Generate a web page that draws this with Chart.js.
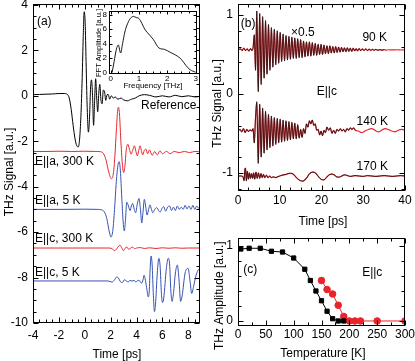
<!DOCTYPE html>
<html>
<head>
<meta charset="utf-8">
<script src="https://cdn.jsdelivr.net/npm/chart.js"></script>
<style>
  body { margin: 0; background: #fff; }
  #wrap { position: relative; width: 415px; height: 361px; background: #fff; }
  canvas { position: absolute; }
</style>
</head>
<body>
<div id="wrap">
  <canvas id="panelA" width="205" height="361" style="left:0;top:0;width:205px;height:361px"></canvas>
  <canvas id="inset" width="115" height="95" style="left:90px;top:0;width:115px;height:95px"></canvas>
  <canvas id="panelB" width="210" height="232" style="left:205px;top:0;width:210px;height:232px"></canvas>
  <canvas id="panelC" width="210" height="129" style="left:205px;top:232px;width:210px;height:129px"></canvas>
</div>
<script>
// ===== panel (a): THz waveforms, [time ps, signal a.u.]
const refTrace = [[-4,0.05],[-3.5,0.06],[-3,0.07],[-2.5,0.08],[-2,0.1],[-1.6,0.1],[-1.35,0.06],[-1.2,-0.1],[-1.05,-0.6],[-0.9,-1.3],[-0.75,-1.9],[-0.62,-2.2],[-0.5,-2.25],[-0.4,-1.9],[-0.3,-0.9],[-0.2,0.8],[-0.12,2.6],[-0.05,3.7],[0.03,3.2],[0.1,1.5],[0.18,-0.4],[0.28,-1.6],[0.37,-0.9],[0.45,0.4],[0.52,0.7],[0.6,0],[0.68,-1.3],[0.76,-0.2],[0.84,0.75],[0.92,-0.1],[1.0,-0.7],[1.08,0.1],[1.16,0.5],[1.25,-0.2],[1.34,-0.35],[1.43,0.25],[1.52,0.2],[1.62,-0.2],[1.72,0.05],[1.82,0.05],[1.92,-0.15],[2.05,0.0],[2.2,-0.1],[2.35,-0.05],[2.55,-0.15],[2.8,-0.1],[3.0,-0.18],[3.3,-0.22],[3.6,-0.15],[3.9,-0.1],[4.2,0.0],[4.6,0.05],[5.0,0.02],[5.5,-0.05],[6.0,0.0],[6.5,-0.05],[7.0,0.02],[7.5,-0.04],[8.0,0.0],[8.5,-0.05],[9.0,-0.02]];
const ea300Trace = [[-4,-2.45],[-3,-2.45],[-2,-2.44],[-1,-2.45],[0,-2.44],[0.8,-2.45],[1.2,-2.46],[1.45,-2.55],[1.65,-2.85],[1.85,-3.35],[2.05,-3.65],[2.2,-3.45],[2.32,-2.7],[2.44,-1.5],[2.53,-0.7],[2.6,-0.5],[2.68,-0.8],[2.78,-1.9],[2.9,-3.0],[3.0,-3.38],[3.1,-3.1],[3.2,-2.4],[3.32,-2.13],[3.45,-2.35],[3.58,-2.57],[3.7,-2.4],[3.83,-2.2],[3.95,-2.45],[4.06,-2.64],[4.17,-2.4],[4.27,-2.2],[4.37,-2.4],[4.47,-2.6],[4.6,-2.4],[4.72,-2.35],[4.85,-2.55],[5.0,-2.38],[5.2,-2.62],[5.4,-2.45],[5.6,-2.6],[5.8,-2.42],[6.0,-2.55],[6.3,-2.45],[6.6,-2.55],[6.9,-2.45],[7.3,-2.5],[7.7,-2.45],[8.1,-2.5],[8.5,-2.45],[9,-2.47]];
const ea5Trace = [[-4,-5.0],[-2,-5.0],[0,-4.99],[1.0,-5.0],[1.3,-5.02],[1.5,-5.1],[1.7,-5.4],[1.88,-5.95],[2.03,-6.22],[2.17,-5.9],[2.3,-5.0],[2.42,-3.9],[2.55,-3.1],[2.66,-2.9],[2.75,-3.3],[2.86,-4.5],[2.97,-5.6],[3.05,-5.95],[3.14,-5.5],[3.24,-4.68],[3.37,-4.85],[3.5,-5.05],[3.6,-4.85],[3.7,-4.74],[3.82,-5.0],[3.93,-5.15],[4.06,-4.75],[4.19,-4.52],[4.3,-5.0],[4.4,-5.6],[4.5,-5.1],[4.6,-4.56],[4.7,-4.85],[4.81,-5.25],[4.93,-5.0],[5.04,-4.8],[5.15,-5.0],[5.25,-5.15],[5.4,-5.0],[5.56,-4.92],[5.7,-5.05],[5.82,-5.12],[5.97,-4.95],[6.1,-4.88],[6.25,-5.08],[6.4,-4.9],[6.55,-4.85],[6.7,-5.05],[6.85,-4.9],[7.0,-5.05],[7.15,-4.85],[7.3,-5.0],[7.45,-4.9],[7.6,-5.0],[7.75,-4.82],[7.9,-4.98],[8.05,-4.85],[8.2,-5.0],[8.35,-4.82],[8.5,-5.0],[8.65,-4.85],[8.8,-4.95],[9,-4.88]];
const ec300Trace = [[-4,-6.7],[-2,-6.7],[0,-6.7],[1.8,-6.7],[2.1,-6.72],[2.3,-6.82],[2.45,-6.75],[2.6,-6.62],[2.72,-6.58],[2.85,-6.68],[2.98,-6.82],[3.1,-6.72],[3.25,-6.66],[3.4,-6.76],[3.55,-6.7],[3.7,-6.66],[3.85,-6.73],[4.0,-6.7],[4.3,-6.68],[4.6,-6.72],[5,-6.69],[5.5,-6.72],[6,-6.69],[6.5,-6.71],[7,-6.69],[7.5,-6.71],[8,-6.7],[9,-6.7]];
const ec5Trace = [[-4,-8.15],[-2,-8.15],[0,-8.15],[1.8,-8.15],[2.1,-8.2],[2.3,-8.1],[2.45,-7.98],[2.6,-8.02],[2.75,-8.18],[2.9,-8.22],[3.05,-8.1],[3.2,-8.14],[3.35,-8.2],[3.5,-8.12],[3.65,-8.16],[3.8,-8.12],[3.95,-8.2],[4.1,-8.12],[4.25,-8.15],[4.38,-8.25],[4.5,-8.1],[4.58,-7.9],[4.66,-8.05],[4.78,-8.45],[4.9,-8.85],[4.98,-8.6],[5.05,-7.6],[5.12,-7.05],[5.2,-7.4],[5.3,-8.8],[5.38,-9.5],[5.46,-9.2],[5.6,-7.8],[5.72,-7.15],[5.82,-7.5],[5.92,-8.7],[6.0,-9.1],[6.1,-8.9],[6.3,-7.6],[6.45,-7.15],[6.55,-7.4],[6.65,-8.6],[6.74,-9.05],[6.85,-8.7],[7.0,-7.8],[7.15,-7.45],[7.28,-8.1],[7.4,-9.05],[7.52,-8.8],[7.75,-7.8],[7.98,-7.6],[8.12,-8.1],[8.26,-8.7],[8.4,-8.4],[8.6,-7.9],[8.8,-7.65],[9.0,-7.7]];
const aTimeTicks = [-4, -2, 0, 2, 4, 6, 8];
const aSignalTicks = [-10, -8, -6, -4, -2, 0, 2, 4];

// ===== inset: FFT spectrum, [frequency THz, amplitude a.u.]
const fftTrace = [[0.05,0],[0.12,1.5],[0.2,3.2],[0.27,3.8],[0.35,2.7],[0.42,4.0],[0.5,5.6],[0.6,6.8],[0.7,7.5],[0.8,7.75],[0.9,7.6],[1.0,7.45],[1.1,6.8],[1.2,6.0],[1.3,5.5],[1.5,4.6],[1.7,3.4],[1.9,3.2],[2.1,2.8],[2.3,2.4],[2.5,1.8],[2.65,1.0],[2.8,0.4],[3.0,0.05]];
const fftFreqTicks = [0, 1, 2, 3];
const fftAmpTicks = [0, 2, 4, 6, 8];

// ===== panel (b): E||c waveforms, [time ps, signal a.u.]
const k90Trace = [[0,0.56],[0.6,0.57],[1.0,0.55],[1.4,0.58],[1.8,0.55],[2.2,0.57],[2.6,0.545],[3.0,0.575],[3.3,0.55],[3.6,0.58],[3.9,0.75],[4.2,0.3],[4.5,1.05],[4.85,0.03],[5.2,1.02],[5.55,0.12],[5.9,0.98],[6.25,0.2],[6.6,0.93],[6.95,0.25],[7.3,0.88],[7.65,0.3],[8.0,0.84],[8.35,0.34],[8.7,0.82],[9.05,0.37],[9.4,0.8],[9.75,0.39],[10.1,0.78],[10.45,0.41],[10.8,0.76],[11.15,0.42],[11.5,0.74],[11.85,0.43],[12.2,0.73],[12.55,0.44],[12.9,0.72],[13.25,0.45],[13.6,0.71],[13.95,0.45],[14.3,0.7],[14.65,0.46],[15.0,0.69],[15.35,0.46],[15.7,0.67],[16.05,0.47],[16.4,0.66],[16.75,0.48],[17.1,0.66],[17.45,0.48],[17.8,0.65],[18.15,0.49],[18.5,0.64],[18.85,0.49],[19.2,0.63],[19.55,0.5],[19.9,0.63],[20.25,0.5],[20.6,0.62],[20.95,0.51],[21.3,0.61],[21.65,0.51],[22.0,0.61],[22.35,0.52],[22.7,0.6],[23.05,0.52],[23.4,0.6],[23.75,0.525],[24.1,0.595],[24.45,0.53],[24.8,0.59],[25.15,0.535],[25.5,0.585],[25.85,0.535],[26.2,0.585],[26.55,0.54],[26.9,0.58],[27.25,0.54],[27.6,0.58],[27.95,0.545],[28.3,0.575],[28.65,0.545],[29.0,0.575],[29.4,0.55],[29.8,0.57],[30.2,0.55],[30.6,0.57],[31.0,0.55],[31.4,0.568],[31.8,0.552],[32.2,0.566],[32.6,0.552],[33.0,0.565],[33.5,0.553],[34.0,0.563],[34.5,0.555],[35.0,0.562],[35.5,0.555],[36,0.56],[37,0.558],[38,0.56],[39,0.557],[40,0.56]];
const k140Trace = [[0,-0.465],[0.5,-0.45],[0.9,-0.48],[1.3,-0.44],[1.7,-0.49],[2.1,-0.45],[2.5,-0.475],[2.9,-0.455],[3.3,-0.47],[3.6,-0.44],[3.9,-0.62],[4.2,-0.3],[4.5,-0.1],[4.85,-0.88],[5.2,-0.13],[5.55,-0.8],[5.9,-0.18],[6.25,-0.75],[6.6,-0.22],[6.95,-0.71],[7.3,-0.26],[7.65,-0.68],[8.0,-0.28],[8.35,-0.66],[8.7,-0.3],[9.05,-0.64],[9.4,-0.31],[9.75,-0.62],[10.1,-0.32],[10.45,-0.61],[10.8,-0.33],[11.15,-0.6],[11.5,-0.34],[11.85,-0.59],[12.2,-0.35],[12.55,-0.58],[12.9,-0.36],[13.25,-0.57],[13.6,-0.37],[13.95,-0.57],[14.3,-0.39],[14.65,-0.56],[15.0,-0.45],[15.35,-0.55],[15.7,-0.44],[16.05,-0.5],[16.4,-0.38],[16.75,-0.42],[17.1,-0.34],[17.45,-0.38],[17.8,-0.33],[18.15,-0.4],[18.5,-0.38],[18.85,-0.46],[19.2,-0.45],[19.55,-0.52],[19.9,-0.47],[20.25,-0.53],[20.6,-0.46],[20.95,-0.49],[21.3,-0.42],[21.7,-0.46],[22.1,-0.43],[22.5,-0.5],[22.9,-0.46],[23.3,-0.5],[23.7,-0.45],[24.1,-0.47],[24.5,-0.44],[24.9,-0.47],[25.3,-0.45],[25.7,-0.48],[26.1,-0.44],[26.5,-0.46],[26.9,-0.43],[27.3,-0.45],[27.7,-0.43],[28.1,-0.46],[28.8,-0.47],[29.6,-0.49],[30.4,-0.47],[31.2,-0.45],[32,-0.44],[32.8,-0.46],[33.6,-0.48],[34.4,-0.46],[35.2,-0.44],[36,-0.45],[36.8,-0.47],[37.6,-0.48],[38.4,-0.46],[39.2,-0.45],[40,-0.46]];
const k170Trace = [[0,-1.04],[0.8,-1.04],[1.2,-1.05],[1.45,-1.1],[1.65,-0.96],[1.8,-0.94],[2.0,-1.1],[2.25,-0.98],[2.5,-1.08],[2.75,-1.0],[3.0,-1.07],[3.25,-1.01],[3.5,-1.07],[3.75,-1.0],[4.0,-1.08],[4.3,-0.99],[4.6,-1.07],[4.9,-1.0],[5.2,-1.07],[5.5,-1.01],[5.8,-1.06],[6.1,-1.02],[6.4,-1.06],[6.8,-1.03],[7.2,-1.06],[7.6,-1.04],[8.0,-1.06],[8.5,-1.05],[9.0,-1.06],[9.5,-1.05],[10,-1.04],[10.5,-1.03],[11,-1.025],[11.5,-1.02],[12,-1.01],[12.5,-1.005],[13,-1.01],[13.5,-1.03],[14,-1.06],[14.5,-1.085],[15,-1.1],[15.5,-1.105],[16,-1.09],[16.5,-1.06],[17,-1.02],[17.5,-0.995],[18,-0.99],[18.5,-1.0],[19,-1.03],[19.5,-1.06],[20,-1.085],[20.5,-1.09],[21,-1.07],[21.5,-1.04],[22,-1.02],[22.5,-1.015],[23,-1.025],[23.5,-1.045],[24,-1.055],[24.5,-1.05],[25,-1.035],[25.5,-1.025],[26,-1.03],[26.5,-1.04],[27,-1.045],[27.5,-1.04],[28,-1.035],[29,-1.04],[30,-1.045],[31,-1.035],[32,-1.04],[33,-1.045],[34,-1.04],[35,-1.035],[36,-1.04],[37,-1.045],[38,-1.04],[39,-1.035],[40,-1.04]];
// black (measured) curves stop earlier than the red (fit) ones
const k90BlackEnd = 35;
const k140BlackEnd = 28.1;
const bTimeTicks = [0, 10, 20, 30, 40];
const bSignalTicks = [-1, 0, 1];

// ===== panel (c): amplitude vs temperature
const blackTemp = [5, 20, 40, 60, 80, 100, 120, 130, 140, 150, 160, 170, 180, 190];
const blackAmp = [0.96, 0.97, 0.97, 0.93, 0.92, 0.84, 0.69, 0.54, 0.4, 0.27, 0.13, 0.03, 0.0, 0.0];
const redTemp = [150, 160, 170, 180, 190, 200, 210, 220, 250, 300];
const redAmp = [0.54, 0.42, 0.36, 0.21, 0.06, 0, 0, 0, 0, 0];
const cTempTicks = [0, 50, 100, 150, 200, 250, 300];
const cAmpTicks = [0, 1];

// ===== helpers
const FONT = '"Liberation Sans", Arial, Helvetica, sans-serif';
Chart.defaults.font.family = FONT;
Chart.defaults.color = '#000';
const RED = '#e8252b';
const BLUE = '#3651b2';

function axis(min, max, tickValues, fitSize, horizontal, pad, size) {
    return {
        type: 'linear', min: min, max: max,
        grid: {display: false, drawTicks: false},
        border: {display: false},
        ticks: {padding: pad, font: {size: size}, color: '#000', maxRotation: 0, autoSkip: false,
            callback: v => String(v)},
        afterBuildTicks: s => { s.ticks = tickValues.map(v => ({value: v})); },
        afterFit: s => {
            if (horizontal) { s.height = fitSize; s.paddingLeft = 0; s.paddingRight = 0; }
            else { s.width = fitSize; s.paddingTop = 0; s.paddingBottom = 0; }
        }
    };
}

function trace(points, color, width) {
    return {
        data: points.map(p => ({x: p[0], y: p[1]})),
        borderColor: color, backgroundColor: color, borderWidth: width,
        pointRadius: 0, cubicInterpolationMode: 'monotone', fill: false
    };
}

function isMul(v, m) { return Math.abs(v / m - Math.round(v / m)) < 1e-6; }

// frame box with inward major/minor ticks on all four sides
const frame = {
    id: 'frame',
    beforeDatasetsDraw(chart, args, o) {
        if (!o.fill) return;
        const a = chart.chartArea, ctx = chart.ctx;
        ctx.save();
        ctx.fillStyle = '#fff';
        ctx.fillRect(a.left, a.top, a.right - a.left, a.bottom - a.top);
        ctx.restore();
    },
    afterDatasetsDraw(chart, args, o) {
        const {ctx, chartArea: a, scales: {x, y}} = chart;
        const L = Math.round(a.left) + 0.5, R = Math.round(a.right) - 0.5;
        const T = Math.round(a.top) + 0.5, B = Math.round(a.bottom) - 0.5;
        ctx.save();
        ctx.strokeStyle = '#000';
        ctx.lineWidth = 1;
        ctx.strokeRect(L, T, R - L, B - T);
        ctx.beginPath();
        for (let n = Math.ceil(x.min / o.xMinor - 1e-6); n * o.xMinor <= x.max + 1e-6; n++) {
            const v = n * o.xMinor;
            const len = isMul(v, o.xMajor) ? o.major : o.minor;
            const px = Math.round(x.getPixelForValue(v)) + 0.5;
            ctx.moveTo(px, B); ctx.lineTo(px, B - len);
            ctx.moveTo(px, T); ctx.lineTo(px, T + len);
        }
        for (let n = Math.ceil(y.min / o.yMinor - 1e-6); n * o.yMinor <= y.max + 1e-6; n++) {
            const v = n * o.yMinor;
            const len = isMul(v, o.yMajor) ? o.major : o.minor;
            const py = Math.round(y.getPixelForValue(v)) + 0.5;
            ctx.moveTo(L, py); ctx.lineTo(L + len, py);
            ctx.moveTo(R, py); ctx.lineTo(R - len, py);
        }
        ctx.stroke();
        ctx.restore();
    }
};

// text labels: data coordinates (x, y) or canvas pixels (px, py)
const notes = {
    id: 'notes',
    afterDraw(chart, args, o) {
        const {ctx, scales: {x, y}} = chart;
        ctx.save();
        ctx.fillStyle = '#000';
        ctx.textBaseline = 'middle';
        (o.items || []).forEach(it => {
            ctx.font = (it.size || 12) + 'px ' + FONT;
            ctx.textAlign = it.align || 'left';
            const px = it.px !== undefined ? it.px : x.getPixelForValue(it.x);
            const py = it.py !== undefined ? it.py : y.getPixelForValue(it.y);
            ctx.save();
            ctx.translate(px, py);
            if (it.rot) ctx.rotate(it.rot);
            ctx.fillText(it.text, 0, 0);
            ctx.restore();
        });
        ctx.restore();
    }
};

function baseOptions(pad, xAxis, yAxis, frameOpts, items) {
    return {
        responsive: false, animation: false, devicePixelRatio: 1,
        layout: {padding: pad},
        scales: {x: xAxis, y: yAxis},
        plugins: {legend: {display: false}, tooltip: {enabled: false}, frame: frameOpts, notes: {items: items}}
    };
}

// ===== panel (a)
new Chart(document.getElementById('panelA'), {
    type: 'line',
    data: {datasets: [
        trace(refTrace, '#000', 1),
        trace(ea300Trace, RED, 1),
        trace(ea5Trace, BLUE, 1),
        trace(ec300Trace, RED, 1),
        trace(ec5Trace, BLUE, 1)
    ]},
    options: baseOptions({top: 4, right: 5, left: 0, bottom: 0},
        axis(-4, 8.9, aTimeTicks, 38, true, 5, 12),
        axis(-10, 4.04, aSignalTicks, 33, false, 5, 12),
        {xMinor: 0.5, xMajor: 2, yMinor: 0.5, yMajor: 2, major: 5, minor: 3},
        [
            {text: '(a)', x: -3.7, y: 3.25},
            {text: 'Reference', x: 4.34, y: -0.45},
            {text: 'E||a, 300 K', x: -3.85, y: -2.9},
            {text: 'E||a, 5 K', x: -3.85, y: -4.62},
            {text: 'E||c, 300 K', x: -3.85, y: -6.27},
            {text: 'E||c, 5 K', x: -3.85, y: -7.79},
            {text: 'Time [ps]', px: 117, py: 355, align: 'center'},
            {text: 'THz Signal [a.u.]', px: 10, py: 172, align: 'center', rot: -Math.PI / 2}
        ]),
    plugins: [frame, notes]
});

// ===== inset
new Chart(document.getElementById('inset'), {
    type: 'line',
    data: {datasets: [trace(fftTrace, '#000', 0.9)]},
    options: baseOptions({top: 11, right: 8.5, left: 0, bottom: 0},
        axis(-0.06, 3.03, fftFreqTicks, 21, true, 0, 8),
        axis(-0.2, 8.5, fftAmpTicks, 19, false, 2, 8),
        {xMinor: 0.25, xMajor: 1, yMinor: 1, yMajor: 2, major: 3, minor: 2, fill: true},
        [
            {text: 'Frequency [THz]', px: 63, py: 86, align: 'center', size: 8},
            {text: 'FFT Amplitude [a.u.]', px: 8.5, py: 43, align: 'center', size: 7.5, rot: -Math.PI / 2}
        ]),
    plugins: [frame, notes]
});

// ===== panel (b)
new Chart(document.getElementById('panelB'), {
    type: 'line',
    data: {datasets: [
        trace(k90Trace.filter(p => p[0] <= k90BlackEnd), '#111', 0.75),
        trace(k140Trace.filter(p => p[0] <= k140BlackEnd), '#111', 0.75),
        trace(k170Trace, '#111', 0.75),
        trace(k90Trace, RED, 1.2),
        trace(k140Trace, RED, 1.2),
        trace(k170Trace, RED, 1.2)
    ]},
    options: baseOptions({top: 4, right: 10, left: 0, bottom: 0},
        axis(0, 40, bTimeTicks, 41, true, 2, 12),
        axis(-1.23, 1.14, bSignalTicks, 33, false, 5, 12),
        {xMinor: 2.5, xMajor: 10, yMinor: 0.2, yMajor: 1, major: 5, minor: 3},
        [
            {text: '(b)', x: 0.65, y: 0.895},
            {text: '×0.5', x: 12.7, y: 0.78},
            {text: '90 K', x: 29.8, y: 0.71},
            {text: 'E||c', x: 18.85, y: 0.03},
            {text: '140 K', x: 28.4, y: -0.35},
            {text: '170 K', x: 28.4, y: -0.92},
            {text: 'Time [ps]', px: 118, py: 222, align: 'center'},
            {text: 'THz Signal [a.u.]', px: 12.5, py: 103.5, align: 'center', rot: -Math.PI / 2}
        ]),
    plugins: [frame, notes]
});

// ===== panel (c)
const blackPoints = blackTemp.map((t, i) => [t, blackAmp[i]]);
const redPoints = redTemp.map((t, i) => [t, redAmp[i]]);
const cBlack = trace(blackPoints, '#000', 1);
cBlack.pointStyle = 'rect';
cBlack.pointRadius = 3;
cBlack.cubicInterpolationMode = 'default';
const cRed = trace(redPoints, RED, 1);
cRed.pointStyle = 'circle';
cRed.pointRadius = 3.3;
cRed.cubicInterpolationMode = 'default';
new Chart(document.getElementById('panelC'), {
    type: 'line',
    data: {datasets: [cBlack, cRed]},
    options: baseOptions({top: 6, right: 10, left: 0, bottom: 0},
        axis(0, 300, cTempTicks, 35, true, 1, 12),
        axis(-0.067, 1.107, cAmpTicks, 33, false, 5, 12),
        {xMinor: 25, xMajor: 50, yMinor: 0.2, yMajor: 1, major: 5, minor: 3},
        [
            {text: '(c)', x: 9.5, y: 0.68},
            {text: 'E||c', x: 223, y: 0.64},
            {text: 'Temperature [K]', px: 118, py: 122, align: 'center'},
            {text: 'THz Amplitude [a.u.]', px: 15, py: 63.7, align: 'center', rot: -Math.PI / 2}
        ]),
    plugins: [frame, notes]
});
</script>
</body>
</html>
